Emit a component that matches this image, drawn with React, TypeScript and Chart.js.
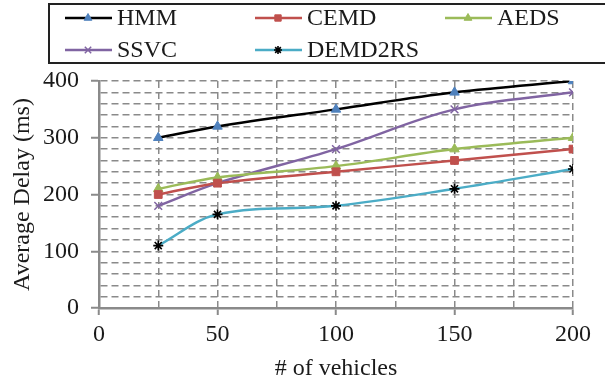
import React, { useEffect, useRef } from "react";
import { Chart, registerables } from "chart.js";
import { drawPoint } from "chart.js/helpers";

Chart.register(...registerables);

const xValues = [25, 50, 100, 150, 200];
const seriesNames = ["HMM", "CEMD", "AEDS", "SSVC", "DEMD2RS"];
const hmm = [300, 320, 350, 380, 400];
const cemd = [200, 220, 240, 260, 280];
const aeds = [210, 230, 250, 280, 300];
const ssvc = [180, 220, 280, 350, 380];
const demd2rs = [110, 165, 180, 210, 245];
const xTickLabels = [0, 50, 100, 150, 200];
const yTickLabels = [0, 100, 200, 300, 400];

const FONT = '"Liberation Serif", "Times New Roman", serif';
const FSIZE = 24;
const GRID = "#8a8a8a";
const TEXT = "#1a1a1a";

const styles = [
  { line: "#000000", pt: "#4F81BD", style: "triangle", r: 5.5, bw: 1 },
  { line: "#C0504D", pt: "#C0504D", style: "rect", r: 5.5, bw: 1 },
  { line: "#9BBB59", pt: "#9BBB59", style: "triangle", r: 5.5, bw: 1 },
  { line: "#8064A2", pt: "#8064A2", style: "crossRot", r: 5.5, bw: 1.5 },
  { line: "#4BACC6", pt: "#000000", style: "star", r: 5, bw: 1.6 },
];
const allSeries = [hmm, cemd, aeds, ssvc, demd2rs];

const legendPlugin = {
  id: "boxLegend",
  afterDraw(chart: any) {
    const ctx = chart.ctx;
    ctx.save();
    ctx.strokeStyle = "#222";
    ctx.lineWidth = 2;
    ctx.strokeRect(49, 4, 640, 59);
    ctx.textBaseline = "middle";
    ctx.textAlign = "left";
    seriesNames.forEach((name, i) => {
      const s = styles[i];
      const col = i % 3;
      const row = Math.floor(i / 3);
      const x = 65 + col * 190;
      const y = 18 + row * 32;
      ctx.strokeStyle = s.line;
      ctx.lineWidth = 2.5;
      ctx.beginPath();
      ctx.moveTo(x, y);
      ctx.lineTo(x + 47, y);
      ctx.stroke();
      ctx.fillStyle = s.pt;
      ctx.strokeStyle = s.pt;
      ctx.lineWidth = s.bw;
      drawPoint(ctx, { pointStyle: s.style, rotation: 0, radius: s.r - 1, borderWidth: s.bw } as any, x + 23, y);
      ctx.fillStyle = TEXT;
      ctx.font = `${FSIZE}px ${FONT}`;
      ctx.fillText(name, x + 52, y + 1);
    });
    ctx.restore();
  },
};

export default function App() {
  const ref = useRef<HTMLCanvasElement>(null);
  useEffect(() => {
    if (!ref.current) return;
    const chart = new Chart(ref.current, {
      type: "line",
      data: {
        datasets: seriesNames.map((name, i) => ({
          label: name,
          data: xValues.map((x, j) => ({ x, y: allSeries[i][j] })),
          borderColor: styles[i].line,
          backgroundColor: styles[i].pt,
          pointBackgroundColor: styles[i].pt,
          pointBorderColor: styles[i].pt,
          pointStyle: styles[i].style as any,
          pointRadius: styles[i].r,
          pointBorderWidth: styles[i].bw,
          borderWidth: 2.5,
          tension: 0.35,
          fill: false,
        })),
      },
      options: {
        responsive: false,
        animation: false,
        layout: { padding: { top: 81, right: 32, left: 0, bottom: 0 } },
        plugins: { legend: { display: false }, tooltip: { enabled: false } },
        scales: {
          x: {
            type: "linear",
            min: 0,
            max: 200,
            afterFit: (s: any) => {
              s.height = 75;
            },
            ticks: {
              stepSize: 25,
              autoSkip: false,
              maxRotation: 0,
              padding: 5,
              color: TEXT,
              font: { family: FONT, size: FSIZE },
              callback: (v: any) => (xTickLabels.includes(v) ? String(v) : ""),
            },
            grid: {
              color: (c: any) => (c.tick && c.tick.value === 0 ? "rgba(0,0,0,0)" : GRID),
              lineWidth: 1.5,
              tickColor: (c: any) => (c.tick && xTickLabels.includes(c.tick.value) ? GRID : "rgba(0,0,0,0)"),
              tickLength: 7,
              tickWidth: 2,
            },
            border: { color: GRID, width: 2.5, dash: [7, 4] },
            title: {
              display: true,
              text: "# of vehicles",
              color: TEXT,
              font: { family: FONT, size: FSIZE },
              padding: { top: 0, bottom: 0 },
            },
          },
          y: {
            type: "linear",
            min: 0,
            max: 400,
            afterFit: (s: any) => {
              s.width = 99;
            },
            ticks: {
              stepSize: 20,
              autoSkip: false,
              padding: 12,
              color: TEXT,
              font: { family: FONT, size: FSIZE },
              callback: (v: any) => (yTickLabels.includes(v) ? String(v) : ""),
            },
            grid: {
              color: (c: any) => (c.tick && c.tick.value === 0 ? "rgba(0,0,0,0)" : GRID),
              lineWidth: 1.5,
              tickColor: (c: any) => (c.tick && yTickLabels.includes(c.tick.value) ? GRID : "rgba(0,0,0,0)"),
              tickLength: 8,
              tickWidth: 2,
            },
            border: { color: GRID, width: 2.5, dash: [7, 4] },
            title: {
              display: true,
              text: "Average Delay (ms)",
              color: TEXT,
              font: { family: FONT, size: FSIZE },
              padding: { top: 8, bottom: 0 },
            },
          },
        },
      },
      plugins: [legendPlugin],
    });
    return () => chart.destroy();
  }, []);
  return (
    <div style={{ position: "absolute", left: 0, top: 0, width: 605, height: 383 }}>
      <canvas ref={ref} width={605} height={383} />
    </div>
  );
}
